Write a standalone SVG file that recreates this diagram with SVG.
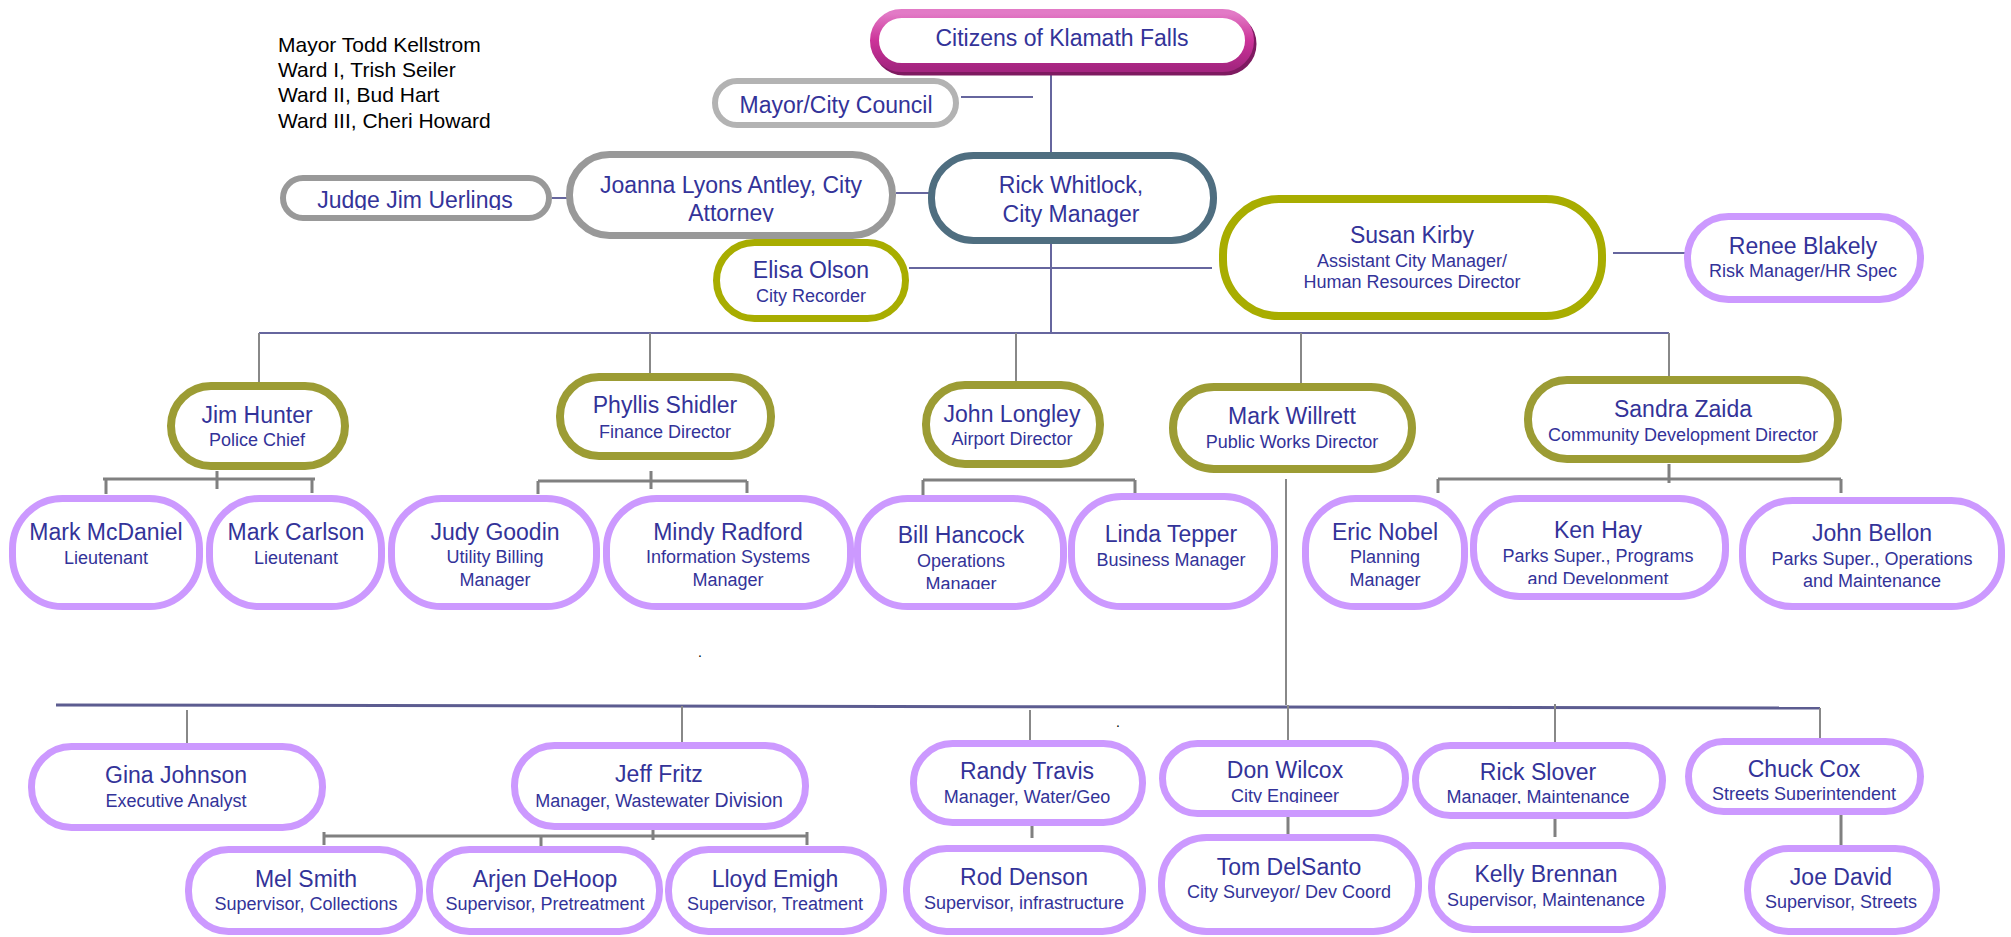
<svg xmlns="http://www.w3.org/2000/svg" width="2011" height="937" viewBox="0 0 2011 937">
<defs>
<linearGradient id="gMag" x1="0" y1="0" x2="0" y2="1">
<stop offset="0" stop-color="#e27ac6"/>
<stop offset="0.5" stop-color="#cc3399"/>
<stop offset="1" stop-color="#a52580"/>
</linearGradient>
<clipPath id="cJudge"><rect x="280" y="170" width="280" height="40"/></clipPath>
<clipPath id="cJoanna"><rect x="560" y="150" width="340" height="72"/></clipPath>
<clipPath id="cBill"><rect x="850" y="490" width="220" height="99"/></clipPath>
<clipPath id="cKen"><rect x="1470" y="490" width="260" height="94"/></clipPath>
<clipPath id="cDon"><rect x="1160" y="740" width="250" height="63"/></clipPath>
<clipPath id="cRslover"><rect x="1410" y="740" width="260" height="64"/></clipPath>
<clipPath id="cChuck"><rect x="1685" y="735" width="240" height="65"/></clipPath>
</defs>
<style>
text{font-family:"Liberation Sans",Arial,sans-serif;fill:#333399;text-anchor:middle}
.nm{font-size:23px}
.sb{font-size:18px}
.note{font-size:21px;fill:#000;text-anchor:start}
rect{fill:#fff}
.lav{stroke:#cc99ff;stroke-width:7}
.olv{stroke:#9c9c34;stroke-width:8}
.grn{stroke:#a8ad00;stroke-width:8}
.gry{stroke:#999999;stroke-width:7}
.lgry{stroke:#b3b3b3;stroke-width:6}
.slate{stroke:#4f6e80;stroke-width:7}
.bl{stroke:#66669e;stroke-width:2;fill:none}
.bl3{stroke:#5c5c90;stroke-width:3;fill:none}
.gl{stroke:#888888;stroke-width:2;fill:none}
.br{stroke:#808080;stroke-width:3;fill:none}
</style>

<g id="note">
<text class="note" x="278" y="52">Mayor Todd Kellstrom</text>
<text class="note" x="278" y="77">Ward I, Trish Seiler</text>
<text class="note" x="278" y="102">Ward II, Bud Hart</text>
<text class="note" x="278" y="128">Ward III, Cheri Howard</text>
</g>

<g id="connectors">
<path class="bl" d="M1051 70V160"/>
<path class="bl" d="M961 97H1033"/>
<path class="bl" d="M552 198H567"/>
<path class="bl" d="M896 193H929"/>
<path class="bl" d="M1051 228V333"/>
<path class="bl" d="M909 268H1212"/>
<path class="bl" d="M1613 253H1685"/>
<path class="bl" d="M259 333H1669"/>
<path class="gl" d="M259 333V383M650 333V374M1016 333V382M1301 333V384M1669 333V377"/>
<path class="br" d="M103 479H315M106 479V494M217 471V489M312 479V493"/>
<path class="br" d="M538 481H747M538 481V494M651 471V489M747 481V493"/>
<path class="br" d="M923 480H1135M923 480V498M1135 480V499"/>
<path class="br" d="M1438 479H1841M1438 479V493M1669 464V483M1841 479V493"/>
<path class="gl" d="M1286 479V705"/>
<path class="bl3" d="M56 705L1820 708"/>
<path class="gl" d="M1820 708V743M187 710V743M682 706V742M1030 710V740M1288 705V740M1555 704V742"/>
<path class="br" d="M324 836H807M324 832V845M541 836V848M653 824V840M807 832V845"/>
<path class="br" d="M1032 824V838M1288 816V836M1555 817V837M1841 807V845"/>
</g>

<g id="n-citizens">
<rect x="877" y="17" width="375" height="54" rx="27" style="fill:none;stroke:#7e1a60;stroke-width:9"/>
<rect x="874.5" y="13.5" width="375" height="54" rx="27" style="stroke:url(#gMag);stroke-width:9"/>
<text class="nm" x="1062" y="46">Citizens of Klamath Falls</text>
</g>
<g id="n-mayor">
<rect class="lgry" x="715" y="81" width="241" height="44" rx="22"/>
<text class="nm" x="836" y="113">Mayor/City Council</text>
</g>
<g id="n-judge">
<rect class="gry" style="stroke-width:6" x="283" y="178" width="266" height="40" rx="20"/>
<text class="nm" x="415" y="208" clip-path="url(#cJudge)">Judge Jim Uerlings</text>
</g>
<g id="n-joanna">
<rect class="gry" x="569.5" y="154.5" width="323" height="81" rx="40"/>
<text class="nm" x="731" y="193">Joanna Lyons Antley, City</text>
<text class="nm" x="731" y="221" clip-path="url(#cJoanna)">Attorney</text>
</g>
<g id="n-rick">
<rect class="slate" x="931.5" y="155.5" width="282" height="85" rx="42"/>
<text class="nm" x="1071" y="193">Rick Whitlock,</text>
<text class="nm" x="1071" y="222">City Manager</text>
</g>
<g id="n-elisa">
<rect class="grn" style="stroke-width:7" x="716.5" y="242.5" width="189" height="76" rx="38"/>
<text class="nm" x="811" y="278">Elisa Olson</text>
<text class="sb" x="811" y="302">City Recorder</text>
</g>
<g id="n-susan">
<rect class="grn" x="1223" y="199" width="379" height="117" rx="56"/>
<text class="nm" x="1412" y="243">Susan Kirby</text>
<text class="sb" x="1412" y="267">Assistant City Manager/</text>
<text class="sb" x="1412" y="288">Human Resources Director</text>
</g>
<g id="n-renee">
<rect class="lav" x="1687.5" y="216.5" width="233" height="83" rx="41"/>
<text class="nm" x="1803" y="254">Renee Blakely</text>
<text class="sb" x="1803" y="277">Risk Manager/HR Spec</text>
</g>

<g id="n-jim">
<rect class="olv" x="171" y="386" width="174" height="80" rx="40"/>
<text class="nm" x="257" y="423">Jim Hunter</text>
<text class="sb" x="257" y="446">Police Chief</text>
</g>
<g id="n-phyllis">
<rect class="olv" x="560" y="377" width="211" height="79" rx="39"/>
<text class="nm" x="665" y="413">Phyllis Shidler</text>
<text class="sb" x="665" y="438">Finance Director</text>
</g>
<g id="n-john">
<rect class="olv" x="926" y="385" width="174" height="79" rx="39"/>
<text class="nm" x="1012" y="422">John Longley</text>
<text class="sb" x="1012" y="445">Airport Director</text>
</g>
<g id="n-markw">
<rect class="olv" x="1173" y="387" width="239" height="82" rx="41"/>
<text class="nm" x="1292" y="424">Mark Willrett</text>
<text class="sb" x="1292" y="448">Public Works Director</text>
</g>
<g id="n-sandra">
<rect class="olv" x="1528" y="380" width="310" height="79" rx="39"/>
<text class="nm" x="1683" y="417">Sandra Zaida</text>
<text class="sb" x="1683" y="441">Community Development Director</text>
</g>

<g id="n-mcdaniel">
<rect class="lav" x="12.5" y="498.5" width="187" height="108" rx="50"/>
<text class="nm" x="106" y="540">Mark McDaniel</text>
<text class="sb" x="106" y="564">Lieutenant</text>
</g>
<g id="n-carlson">
<rect class="lav" x="209.5" y="498.5" width="172" height="108" rx="50"/>
<text class="nm" x="296" y="540">Mark Carlson</text>
<text class="sb" x="296" y="564">Lieutenant</text>
</g>
<g id="n-judy">
<rect class="lav" x="391.5" y="498.5" width="205" height="108" rx="50"/>
<text class="nm" x="495" y="540">Judy Goodin</text>
<text class="sb" x="495" y="563">Utility Billing</text>
<text class="sb" x="495" y="586">Manager</text>
</g>
<g id="n-mindy">
<rect class="lav" x="606.5" y="498.5" width="244" height="108" rx="50"/>
<text class="nm" x="728" y="540">Mindy Radford</text>
<text class="sb" x="728" y="563">Information Systems</text>
<text class="sb" x="728" y="586">Manager</text>
</g>
<g id="n-bill">
<rect class="lav" x="857.5" y="498.5" width="206" height="108" rx="50"/>
<text class="nm" x="961" y="543">Bill Hancock</text>
<text class="sb" x="961" y="567">Operations</text>
<text class="sb" x="961" y="590" clip-path="url(#cBill)">Manager</text>
</g>
<g id="n-linda">
<rect class="lav" x="1071.5" y="496.5" width="203" height="110" rx="50"/>
<text class="nm" x="1171" y="542">Linda Tepper</text>
<text class="sb" x="1171" y="566">Business Manager</text>
</g>
<g id="n-eric">
<rect class="lav" x="1305.5" y="498.5" width="159" height="108" rx="50"/>
<text class="nm" x="1385" y="540">Eric Nobel</text>
<text class="sb" x="1385" y="563">Planning</text>
<text class="sb" x="1385" y="586">Manager</text>
</g>
<g id="n-ken">
<rect class="lav" x="1473.5" y="498.5" width="252" height="98" rx="46"/>
<text class="nm" x="1598" y="538">Ken Hay</text>
<text class="sb" x="1598" y="562">Parks Super., Programs</text>
<text class="sb" x="1598" y="585" clip-path="url(#cKen)">and Development</text>
</g>
<g id="n-bellon">
<rect class="lav" x="1742.5" y="500.5" width="259" height="106" rx="50"/>
<text class="nm" x="1872" y="541">John Bellon</text>
<text class="sb" x="1872" y="565">Parks Super., Operations</text>
<text class="sb" x="1872" y="587">and Maintenance</text>
</g>

<text style="font-size:14px;fill:#000" x="700" y="657">.</text>
<text style="font-size:14px;fill:#000" x="1118" y="727">.</text>

<g id="n-gina">
<rect class="lav" x="31.5" y="746.5" width="291" height="81" rx="40"/>
<text class="nm" x="176" y="783">Gina Johnson</text>
<text class="sb" x="176" y="807">Executive Analyst</text>
</g>
<g id="n-jeff">
<rect class="lav" x="514.5" y="745.5" width="291" height="81" rx="40"/>
<text class="nm" x="659" y="782">Jeff Fritz</text>
<text class="sb" x="659" y="807">Manager, Wastewater <tspan style="font-size:19.5px">Division</tspan></text>
</g>
<g id="n-mel">
<rect class="lav" x="188.5" y="849.5" width="231" height="82" rx="40"/>
<text class="nm" x="306" y="887">Mel Smith</text>
<text class="sb" x="306" y="910">Supervisor, Collections</text>
</g>
<g id="n-arjen">
<rect class="lav" x="429.5" y="849.5" width="230" height="82" rx="40"/>
<text class="nm" x="545" y="887">Arjen DeHoop</text>
<text class="sb" x="545" y="910">Supervisor, Pretreatment</text>
</g>
<g id="n-lloyd">
<rect class="lav" x="668.5" y="849.5" width="215" height="82" rx="40"/>
<text class="nm" x="775" y="887">Lloyd Emigh</text>
<text class="sb" x="775" y="910">Supervisor, Treatment</text>
</g>
<g id="n-randy">
<rect class="lav" x="913.5" y="743.5" width="229" height="79" rx="39"/>
<text class="nm" x="1027" y="779">Randy Travis</text>
<text class="sb" x="1027" y="803">Manager, Water/Geo</text>
</g>
<g id="n-rod">
<rect class="lav" x="906.5" y="848.5" width="236" height="83" rx="40"/>
<text class="nm" x="1024" y="885">Rod Denson</text>
<text class="sb" x="1024" y="909">Supervisor, infrastructure</text>
</g>
<g id="n-don">
<rect class="lav" x="1162.5" y="743.5" width="243" height="70" rx="35"/>
<text class="nm" x="1285" y="778">Don Wilcox</text>
<text class="sb" x="1285" y="802" clip-path="url(#cDon)">City Engineer</text>
</g>
<g id="n-tom">
<rect class="lav" x="1161.5" y="837.5" width="257" height="94" rx="45"/>
<text class="nm" x="1289" y="875">Tom DelSanto</text>
<text class="sb" x="1289" y="898">City Surveyor/ Dev Coord</text>
</g>
<g id="n-rslover">
<rect class="lav" x="1415.5" y="745.5" width="247" height="70" rx="35"/>
<text class="nm" x="1538" y="780">Rick Slover</text>
<text class="sb" x="1538" y="803" clip-path="url(#cRslover)">Manager, Maintenance</text>
</g>
<g id="n-kelly">
<rect class="lav" x="1431.5" y="845.5" width="231" height="84" rx="41"/>
<text class="nm" x="1546" y="882">Kelly Brennan</text>
<text class="sb" x="1546" y="906">Supervisor, Maintenance</text>
</g>
<g id="n-chuck">
<rect class="lav" x="1688.5" y="741.5" width="232" height="70" rx="35"/>
<text class="nm" x="1804" y="777">Chuck Cox</text>
<text class="sb" x="1804" y="800" clip-path="url(#cChuck)">Streets Superintendent</text>
</g>
<g id="n-joe">
<rect class="lav" x="1747.5" y="848.5" width="189" height="83" rx="41"/>
<text class="nm" x="1841" y="885">Joe David</text>
<text class="sb" x="1841" y="908">Supervisor, Streets</text>
</g>
</svg>
